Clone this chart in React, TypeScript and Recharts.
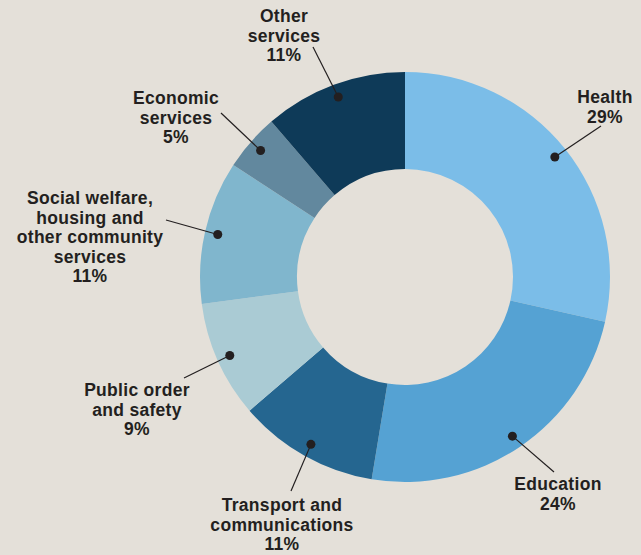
import { PieChart, Pie, Cell } from "recharts";

const CATEGORIES = [
  "Health",
  "Education",
  "Transport and communications",
  "Public order and safety",
  "Social welfare, housing and other community services",
  "Economic services",
  "Other services",
];

// slice sizes
const VALUES = [28.5, 24.1, 11.1, 9.2, 11.3, 4.5, 11.3];

// percentages as printed on the labels
const PCT_LABELS = ["29%", "24%", "11%", "9%", "11%", "5%", "11%"];

// how each category name is broken into lines
const NAME_LINES = [
  ["Health"],
  ["Education"],
  ["Transport and", "communications"],
  ["Public order", "and safety"],
  ["Social welfare,", "housing and", "other community", "services"],
  ["Economic", "services"],
  ["Other", "services"],
];

const COLORS = ["#7bbde8", "#55a2d3", "#256690", "#aacbd4", "#80b6cd", "#62889e", "#0e3a58"];

// where the leader line ends and where the text block sits (centre x, first baseline y)
const LABEL_POS = [
  { lx: 601, ly: 126, tx: 605, ty: 103 },
  { lx: 554, ly: 472, tx: 558, ty: 490 },
  { lx: 291, ly: 491, tx: 282, ty: 511 },
  { lx: 184, ly: 378, tx: 137, ty: 396 },
  { lx: 166, ly: 220, tx: 90, ty: 204 },
  { lx: 221, ly: 113, tx: 176, ty: 104 },
  { lx: 313, ly: 47, tx: 284, ty: 22 },
];

const data = CATEGORIES.map((name, i) => ({ name, value: VALUES[i] }));

const RAD = Math.PI / 180;
const TEXT = "#231f20";
const LINE_H = 19.5;

const renderLabel = (props: any) => {
  const { cx, cy, midAngle, index } = props;
  const r = 192;
  const x = cx + r * Math.cos(-midAngle * RAD);
  const y = cy + r * Math.sin(-midAngle * RAD);
  const pos = LABEL_POS[index];
  const lines = [...NAME_LINES[index], PCT_LABELS[index]];
  return (
    <g key={`lbl-${index}`}>
      <line x1={x} y1={y} x2={pos.lx} y2={pos.ly} stroke={TEXT} strokeWidth={1.2} />
      <circle cx={x} cy={y} r={4.5} fill={TEXT} />
      {lines.map((l, j) => (
        <text
          key={j}
          x={pos.tx}
          y={pos.ty + j * LINE_H}
          textAnchor="middle"
          fill={TEXT}
          fontFamily="Liberation Sans, Arial, sans-serif"
          fontWeight={700}
          fontSize={17.5}
          letterSpacing={0.3}
        >
          {l}
        </text>
      ))}
    </g>
  );
};

export default function App() {
  return (
    <div
      style={{
        position: "absolute",
        left: 0,
        top: 0,
        width: 641,
        height: 555,
        background: "#e4e0d9",
      }}
    >
      <PieChart width={641} height={555} margin={{ top: 0, right: 0, bottom: 0, left: 0 }}>
        <Pie
          data={data}
          dataKey="value"
          nameKey="name"
          cx={405}
          cy={277}
          innerRadius={108}
          outerRadius={205}
          startAngle={90}
          endAngle={-270}
          stroke="none"
          label={renderLabel}
          labelLine={false}
          isAnimationActive={false}
        >
          {data.map((_, i) => (
            <Cell key={i} fill={COLORS[i]} />
          ))}
        </Pie>
      </PieChart>
    </div>
  );
}
